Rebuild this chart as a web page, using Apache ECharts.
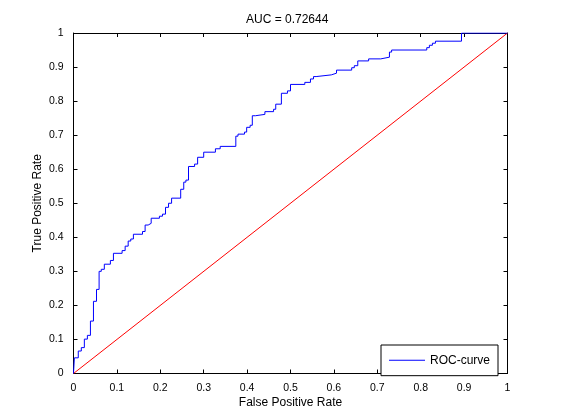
<!DOCTYPE html>
<html>
  <head>
    <title>roc</title>
    <script src="https://cdn.jsdelivr.net/npm/echarts@6/dist/echarts.min.js"></script>
  </head>
  <body style="margin:0;background:#fff">
    <div id="main" style="width: 561px; height: 420px"></div>
    <script>
      // ROC steps: at each fpr the curve rises to the matching tpr
      var fpr = [0, 0.002, 0.011, 0.018, 0.025, 0.032, 0.039, 0.046, 0.053, 0.059,
        0.064, 0.071, 0.085, 0.092, 0.112, 0.119, 0.126, 0.132, 0.138, 0.159,
        0.165, 0.172, 0.179, 0.198, 0.205, 0.212, 0.219, 0.226, 0.247, 0.254,
        0.259, 0.265, 0.279, 0.286, 0.300, 0.327, 0.338, 0.374, 0.379, 0.394,
        0.399, 0.407, 0.412, 0.419, 0.441, 0.461, 0.466, 0.479, 0.493, 0.500,
        0.533, 0.546, 0.553, 0.559, 0.594, 0.606, 0.641, 0.647, 0.655, 0.680,
        0.708, 0.728, 0.733, 0.814, 0.820, 0.827, 0.834, 0.894, 1.0];
      var tpr = [0, 0.046, 0.066, 0.076, 0.101, 0.112, 0.154, 0.212, 0.247, 0.300,
        0.306, 0.321, 0.332, 0.353, 0.361, 0.374, 0.389, 0.395, 0.409, 0.417,
        0.436, 0.441, 0.456, 0.462, 0.468, 0.488, 0.500, 0.515, 0.541, 0.562,
        0.568, 0.608, 0.615, 0.635, 0.650, 0.660, 0.667, 0.697, 0.703, 0.709,
        0.723, 0.729, 0.757, 0.761, 0.769, 0.776, 0.791, 0.823, 0.830, 0.849,
        0.855, 0.865, 0.872, 0.877, 0.882, 0.891, 0.898, 0.904, 0.918, 0.924,
        0.929, 0.944, 0.950, 0.957, 0.964, 0.970, 0.976, 1.0, 1.0];
      var diagX = [0, 1];
      var diagY = [0, 1];
      var auc = "0.72644";

      var font = "'Liberation Sans', Arial, Helvetica, sans-serif";
      var chart = echarts.init(document.getElementById("main"));

      function axis(pos, isX, show) {
        return {
          type: "value",
          position: pos,
          min: 0,
          max: 1,
          interval: 0.1,
          name: show ? (isX ? "False Positive Rate" : "True Positive Rate") : "",
          nameLocation: "middle",
          nameGap: isX ? 19 : 25,
          nameMoveOverlap: false,
          nameTextStyle: { color: "#000", fontSize: 12, fontFamily: font },
          axisLine: { show: true, onZero: false, lineStyle: { color: "#000", width: 1 } },
          axisTick: { show: true, inside: true, length: 4, lineStyle: { color: "#000" } },
          axisLabel: {
            show: show,
            color: "#000",
            fontSize: 10.5,
            fontFamily: font,
            margin: isX ? 6 : 10
          },
          splitLine: { show: false }
        };
      }

      var rocData = fpr.map(function (x, i) { return [x, tpr[i]]; });
      var diagData = diagX.map(function (x, i) { return [x, diagY[i]]; });

      var option = {
        backgroundColor: "#fff",
        animation: false,
        title: {
          text: "AUC = " + auc,
          left: 246,
          top: 9,
          padding: 0,
          textStyle: { color: "#000", fontSize: 12, fontWeight: "normal", fontFamily: font }
        },
        grid: { left: 73.5, right: 53.5, top: 33, bottom: 46.5, outerBoundsMode: "none", containLabel: false },
        xAxis: [axis("bottom", true, true), axis("top", true, false)],
        yAxis: [axis("left", false, true), axis("right", false, false)],
        legend: {
          data: [{ name: "ROC-curve", icon: "rect" }],
          left: 381,
          top: 345,
          padding: [5, 8, 5, 8],
          itemWidth: 36,
          itemHeight: 1,
          itemGap: 5,
          backgroundColor: "#fff",
          borderColor: "#000",
          borderWidth: 1,
          borderRadius: 0,
          textStyle: { color: "#000", fontSize: 12, fontFamily: font }
        },
        series: [
          {
            name: "diag",
            type: "line",
            data: diagData,
            symbol: "none",
            lineStyle: { color: "#ff0000", width: 1 },
            itemStyle: { color: "#ff0000" },
            z: 2
          },
          {
            name: "ROC-curve",
            type: "line",
            step: "end",
            data: rocData,
            symbol: "none",
            lineStyle: { color: "#0000ff", width: 1 },
            itemStyle: { color: "#0000ff" },
            z: 3
          }
        ]
      };
      chart.setOption(option);
    </script>
  </body>
</html>
